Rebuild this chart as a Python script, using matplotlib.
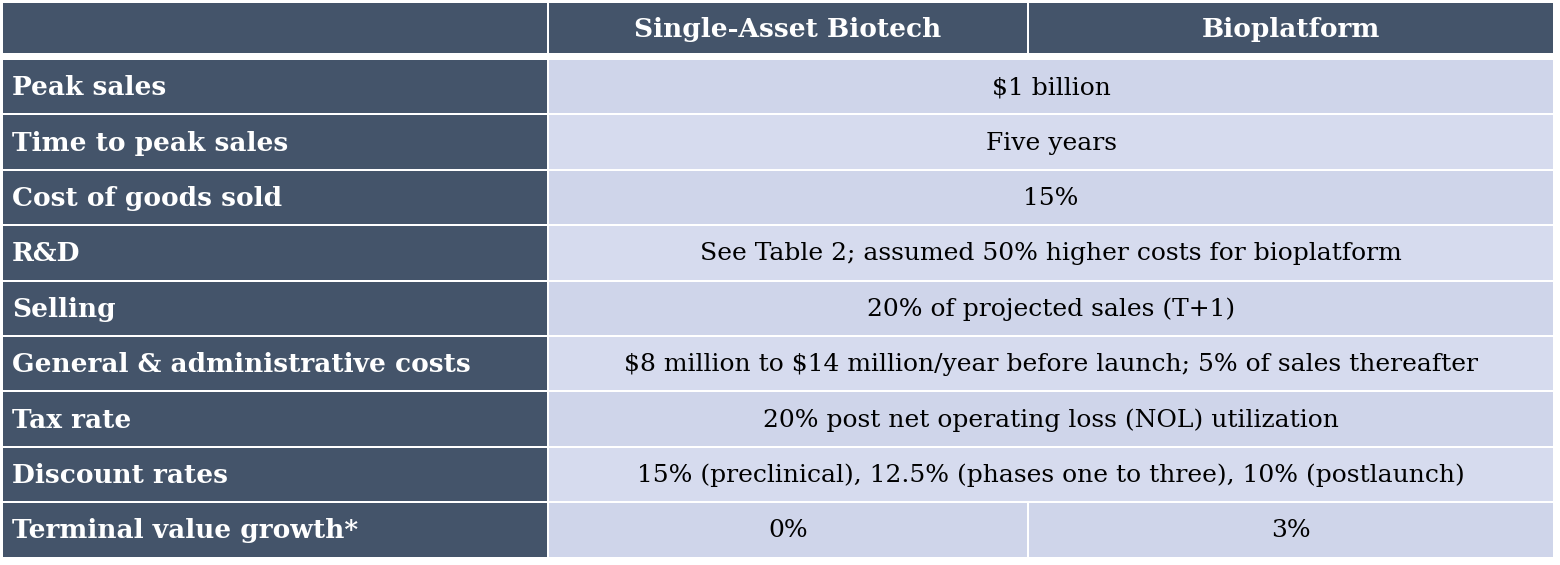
import matplotlib.pyplot as plt
from matplotlib.patches import Rectangle

columns = ['Single-Asset Biotech', 'Bioplatform']
row_labels = ['Peak sales', 'Time to peak sales', 'Cost of goods sold', 'R&D', 'Selling',
              'General & administrative costs', 'Tax rate', 'Discount rates',
              'Terminal value growth*']
# one entry = spans both columns, two entries = one per column
row_values = [
    ['$1 billion'],
    ['Five years'],
    ['15%'],
    ['See Table 2; assumed 50% higher costs for bioplatform'],
    ['20% of projected sales (T+1)'],
    ['$8 million to $14 million/year before launch; 5% of sales thereafter'],
    ['20% post net operating loss (NOL) utilization'],
    ['15% (preclinical), 12.5% (phases one to three), 10% (postlaunch)'],
    ['0%', '3%'],
]

dark = '#44546a'
light = '#cfd5ea'
light2 = '#d6dbee'
plt.rcParams['font.family'] = ['DejaVu Serif']
plt.rcParams['text.parse_math'] = False

W, H = 1560, 565
fig = plt.figure(figsize=(15.6, 5.65), dpi=100)
ax = fig.add_axes([0, 0, 1, 1])
ax.set_xlim(0, W)
ax.set_ylim(H, 0)
ax.axis('off')

col_x = [3, 549, 1029, 1555]   # cell edges
gap = 2
head_top, head_bot = 3, 55
body_top, row_h = 60, 55.4
lab_fs, val_fs = 19, 18

def cell(x0, x1, y0, y1, color):
    ax.add_patch(Rectangle((x0, y0), x1 - x0 - gap, y1 - y0 - gap, color=color, lw=0))

# header
cell(col_x[0], col_x[1], head_top, head_bot, dark)
for j, name in enumerate(columns):
    cell(col_x[j + 1], col_x[j + 2], head_top, head_bot, dark)
    ax.text((col_x[j + 1] + col_x[j + 2] - gap) / 2, (head_top + head_bot) / 2 + 1, name,
            color='white', fontsize=lab_fs, fontweight='bold', ha='center', va='center')

for i, (lab, vals) in enumerate(zip(row_labels, row_values)):
    y0 = body_top + i * row_h
    y1 = y0 + row_h
    ym = (y0 + y1 - gap) / 2 + 1
    bg = light if i % 2 == 0 else light2
    cell(col_x[0], col_x[1], y0, y1, dark)
    ax.text(col_x[0] + 9, ym, lab, color='white', fontsize=lab_fs, fontweight='bold',
            ha='left', va='center')
    if len(vals) == 1:
        cell(col_x[1], col_x[3], y0, y1, bg)
        ax.text((col_x[1] + col_x[3] - gap) / 2, ym, vals[0], color='black', fontsize=val_fs,
                ha='center', va='center')
    else:
        for j, v in enumerate(vals):
            cell(col_x[j + 1], col_x[j + 2], y0, y1, bg)
            ax.text((col_x[j + 1] + col_x[j + 2] - gap) / 2, ym, v, color='black',
                    fontsize=val_fs, ha='center', va='center')

fig.savefig('out.png', dpi=100, facecolor='white')
